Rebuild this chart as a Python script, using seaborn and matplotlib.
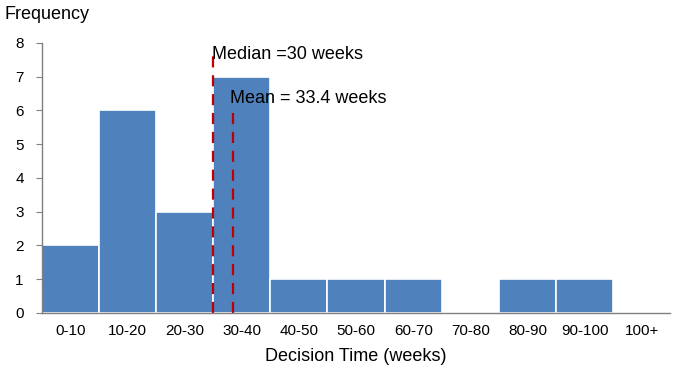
import seaborn as sns
import matplotlib.pyplot as plt
import pandas as pd
from matplotlib.ticker import FixedLocator

# histogram data
bins = ['0-10', '10-20', '20-30', '30-40', '40-50', '50-60', '60-70',
        '70-80', '80-90', '90-100', '100+']
freq = [2, 6, 3, 7, 1, 1, 1, 0, 1, 1, 0]
median_weeks = 30
mean_weeks = 33.4

df = pd.DataFrame({'bin': bins, 'freq': freq})

sns.set_style('white')
plt.rcParams['font.family'] = ['Liberation Sans', 'DejaVu Sans']
plt.rcParams['text.color'] = 'black'
plt.rcParams['xtick.color'] = 'black'
plt.rcParams['ytick.color'] = 'black'
plt.rcParams['axes.labelcolor'] = 'black'

fig = plt.figure(figsize=(6.75, 3.73), dpi=100)
ax = fig.add_axes([0.062, 0.161, 0.931, 0.724])

sns.barplot(data=df, x='bin', y='freq', color='#4F81BD', width=1.0,
            edgecolor='white', linewidth=1.2, saturation=1, ax=ax)

# category position of a week value (each bin is 10 weeks wide)
def pos(w):
    return w / 10 - 0.5

ax.axvline(pos(median_weeks), ymin=0, ymax=7.8 / 8, color='#C00000',
           linestyle=(0, (5, 3.5)), linewidth=1.6)
ax.axvline(pos(mean_weeks), ymin=0, ymax=6.0 / 8, color='#C00000',
           linestyle=(0, (5, 3.5)), linewidth=1.6)
ax.text(pos(median_weeks) - 0.03, 7.4, 'Median =30 weeks', fontsize=13,
        ha='left', va='bottom')
ax.text(pos(mean_weeks) - 0.05, 6.1, 'Mean = 33.4 weeks', fontsize=13,
        ha='left', va='bottom')

ax.set_xlim(-0.5, len(bins) - 0.5)
ax.set_ylim(0, 8)
ax.set_yticks(range(0, 9))
ax.xaxis.set_minor_locator(FixedLocator([i - 0.5 for i in range(len(bins) + 1)]))
ax.tick_params(axis='x', which='major', length=0, labelsize=11, pad=8)
ax.tick_params(axis='x', which='minor', length=5, color='#808080', direction='out')
ax.tick_params(axis='y', length=4, color='#808080', direction='out',
               labelcolor='black', labelsize=11, pad=9, left=True)

for s in ['top', 'right']:
    ax.spines[s].set_visible(False)
for s in ['left', 'bottom']:
    ax.spines[s].set_color('#808080')
    ax.spines[s].set_linewidth(1)

ax.set_xlabel('Decision Time (weeks)', fontsize=13, labelpad=7)
ax.set_ylabel('')
fig.text(0.007, 0.96, 'Frequency', fontsize=13, ha='left', va='center')

fig.savefig('out.png', dpi=100)
